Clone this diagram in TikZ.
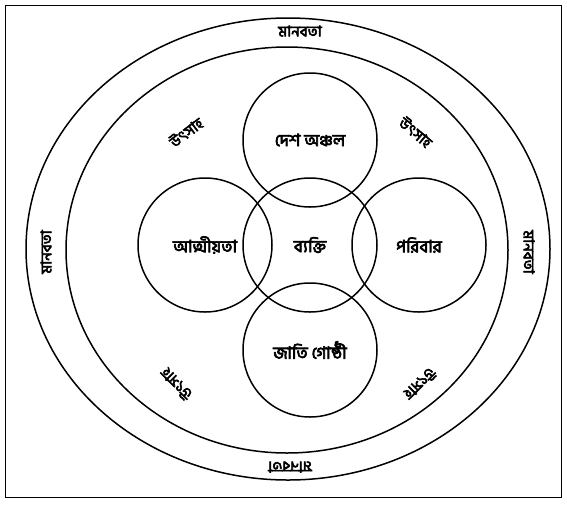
\documentclass[tikz,border=0pt]{standalone}
\usepackage{fontspec}
\newfontfamily\bnfont[Script=Bengali, AutoFakeBold=4]{Hind Siliguri}
\usetikzlibrary{positioning}
\tikzset{
  ringLine/.style={draw=black, line width=1.5pt},
  frameLine/.style={draw=black, line width=1pt},
  groupCircle/.style={
    circle,
    draw=black,
    line width=1.5pt,
    minimum size=134pt,
    inner sep=0pt,
    font=\bnfont\bfseries\fontsize{17}{17}\selectfont
  },
  ringLabel/.style={
    font=\bnfont\bfseries\fontsize{15}{15}\selectfont,
    inner sep=1pt
  }
}

\begin{document}
\begin{tikzpicture}[x=1pt,y=-1pt]
  \useasboundingbox (0,0) rectangle (567,504);
  \draw[frameLine] (5,5) rectangle (561,497);

  % the two rings
  \draw[ringLine] (288,249) ellipse [x radius=262, y radius=231];
  \draw[ringLine] (287,250) ellipse [x radius=221, y radius=203];

  % outer ring labels
  \node[ringLabel] (humTop) at (300,31) {মানবতা};
  \node[ringLabel, rotate=90] (humLeft) at (46,252) {মানবতা};
  \node[ringLabel, rotate=-90] (humRight) at (529,252) {মানবতা};
  \node[ringLabel, rotate=180] (humBottom) at (290,467) {মানবতা};

  % inner ring labels
  \node[ringLabel, rotate=37] (zealTL) at (186,132) {উৎসাহ};
  \node[ringLabel, rotate=-40] (zealTR) at (416,132) {উৎসাহ};
  \node[ringLabel, rotate=135] (zealBL) at (176,384) {উৎসাহ};
  \node[ringLabel, rotate=-135] (zealBR) at (420,384) {উৎসাহ};

  % the five circles
  \node[groupCircle] (self) at (310,245) {ব্যক্তি};
  \node[groupCircle] (region) at (310,140) {দেশ অঞ্চল};
  \node[groupCircle] (kin) at (205,245) {আত্মীয়তা};
  \node[groupCircle] (family) at (419,245) {পরিবার};
  \node[groupCircle] (nation) at (310,350) {জাতি গোষ্ঠী};
\end{tikzpicture}
\end{document}
